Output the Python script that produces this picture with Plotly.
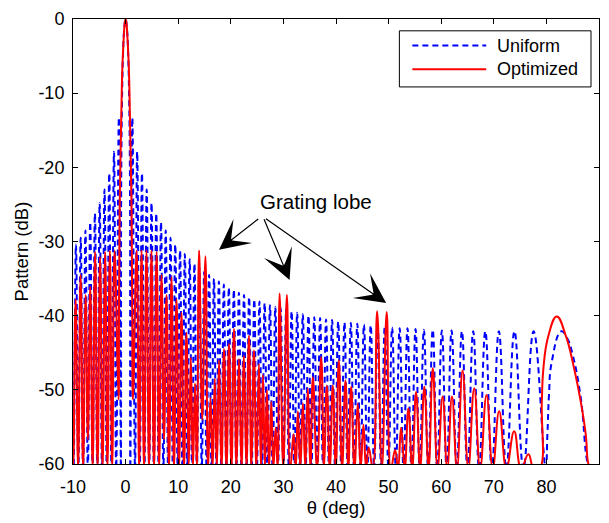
import plotly.graph_objects as go

# ---------------------------------------------------------------
# Uniform array pattern: lobe vertices (angle in deg, level in dB)
# nulls sit just under the -60 dB floor, peaks follow the lobe tops
# ---------------------------------------------------------------
uniform_theta = [
    -10.81, -10.35, -9.90, -9.44, -8.99, -8.54, -8.08, -7.63, -7.18, -6.73,
    -6.28, -5.83, -5.38, -4.93, -4.48, -4.01, -3.58, -3.11, -2.69, -2.20,
    -1.79, -1.28, -0.895, -0.85, -0.80, -0.70, -0.50, -0.30, 0.0,
    0.30, 0.50, 0.70, 0.80, 0.85, 0.895, 1.28, 1.79, 2.20, 2.69, 3.11,
    3.58, 4.01, 4.48, 4.93, 5.38, 5.83, 6.28, 6.73, 7.18, 7.63,
    8.08, 8.54, 8.99, 9.44, 9.90, 10.35, 10.81, 11.26, 11.72, 12.18,
    12.64, 13.09, 13.55, 14.02, 14.48, 14.94, 15.40, 15.87, 16.34, 16.80,
    17.27, 17.74, 18.21, 18.68, 19.16, 19.63, 20.11, 20.58, 21.06, 21.54,
    22.02, 22.51, 22.99, 23.48, 23.97, 24.46, 24.95, 25.45, 25.94, 26.44,
    26.94, 27.45, 27.95, 28.46, 28.97, 29.48, 30.00, 30.52, 31.04, 31.56,
    32.09, 32.62, 33.16, 33.69, 34.23, 34.77, 35.32, 35.87, 36.42, 36.98,
    37.54, 38.11, 38.68, 39.26, 39.83, 40.42, 41.01, 41.61, 42.21, 42.82,
    43.43, 44.05, 44.67, 45.31, 45.96, 46.60, 47.25, 47.92, 48.59, 49.27,
    49.97, 50.67, 51.38, 52.10, 52.84, 53.59, 54.34, 55.12, 55.91, 56.71,
    57.53, 58.39, 59.24, 60.13, 61.04, 61.97, 62.95, 63.94, 64.99, 66.08,
    67.20, 68.39, 69.63, 70.96, 72.38, 73.93, 75.63, 77.57, 79.86,
    80.20, 80.50, 81.00, 82.84, 84.00, 85.00, 86.50, 88.00, 89.00,
]
uniform_db = [
    -60.6, -31.2, -60.6, -30.4, -60.6, -29.5, -60.6, -28.5, -60.6, -27.4,
    -60.6, -26.2, -60.6, -24.8, -60.6, -23.0, -60.6, -20.8, -60.6, -17.9,
    -60.6, -13.3, -60.6, -25.5, -18.6, -11.8, -5.0, -1.7, 0.0,
    -1.7, -5.0, -11.8, -18.6, -25.5, -60.6, -13.3, -60.6, -17.9, -60.6, -20.8,
    -60.6, -23.0, -60.6, -24.8, -60.6, -26.2, -60.6, -27.4, -60.6, -28.5,
    -60.6, -29.5, -60.6, -30.4, -60.6, -31.2, -60.6, -31.7, -60.6, -32.4,
    -60.6, -33.0, -60.6, -33.5, -60.6, -34.1, -60.6, -34.5, -60.6, -35.0,
    -60.6, -35.4, -60.6, -35.8, -60.6, -36.2, -60.6, -36.5, -60.6, -36.9,
    -60.6, -37.2, -60.6, -37.5, -60.6, -37.8, -60.6, -38.1, -60.6, -38.3,
    -60.6, -38.6, -60.6, -38.8, -60.6, -39.0, -60.6, -39.2, -60.6, -39.4,
    -60.6, -39.6, -60.6, -39.8, -60.6, -40.0, -60.6, -40.2, -60.6, -40.3,
    -60.6, -40.5, -60.6, -40.6, -60.6, -40.8, -60.6, -40.9, -60.6, -41.0,
    -60.6, -41.1, -60.6, -41.2, -60.6, -41.3, -60.6, -41.4, -60.6, -41.5,
    -60.6, -41.6, -60.6, -41.7, -60.6, -41.7, -60.6, -41.8, -60.6, -41.9,
    -60.6, -41.9, -60.6, -42.0, -60.6, -42.0, -60.6, -42.1, -60.6, -42.1,
    -60.6, -42.1, -60.6, -42.1, -60.6, -42.1, -60.6, -42.1, -60.6,
    -55.8, -50.6, -46.3, -42.1, -43.1, -45.3, -50.9, -60.4, -62.0,
]

# ---------------------------------------------------------------
# Optimized array pattern
# ---------------------------------------------------------------
optimized_theta = [
    -10.90, -10.45, -9.98, -9.50, -9.03, -8.55, -8.08, -7.60, -7.17, -6.72,
    -6.26, -5.80, -5.33, -4.85, -4.38, -3.90, -3.45, -3.00, -2.55, -2.10,
    -1.35, -1.25, -1.10, -1.00, -0.82, -0.50, 0.0, 0.50, 0.82, 1.00,
    1.10, 1.25, 1.40, 2.10, 2.57, 3.03, 3.50, 3.97, 4.45, 4.92,
    5.40, 5.90, 6.37, 6.83, 7.30, 7.78, 8.25, 8.73, 9.20, 9.68,
    10.15, 10.63, 11.10, 11.57, 12.00, 12.40, 12.80, 13.20, 13.55, 13.97,
    14.57, 15.18, 15.68, 16.13, 16.55, 16.95, 17.35, 17.76, 18.23, 18.71,
    19.18, 19.66, 20.13, 20.61, 21.08, 21.56, 22.03, 22.50, 22.97, 23.45,
    23.92, 24.40, 24.87, 25.35, 25.73, 26.11, 26.49, 26.87, 27.28, 27.70,
    28.10, 28.52, 28.90, 29.28, 29.97, 30.66, 31.30, 31.94, 32.35, 32.75,
    33.22, 33.70, 34.17, 34.65, 35.12, 35.60, 36.40, 37.19, 37.72, 38.25,
    38.82, 39.39, 39.96, 40.53, 41.16, 41.80, 42.34, 42.88, 43.51, 44.14,
    44.68, 45.22, 45.72, 46.22, 47.00, 47.82, 48.73, 49.64, 50.45, 51.23,
    51.80, 52.37, 53.06, 53.76, 54.49, 55.22, 56.00, 56.79, 57.60, 58.40,
    59.30, 60.27, 61.15, 62.05, 63.00, 64.06, 65.15, 66.28, 67.40, 68.62,
    69.80, 71.02, 72.40, 73.87, 75.20, 76.58, 77.60, 78.70, 79.13, 79.43,
    80.38, 81.97, 83.68, 85.26, 86.53, 87.48, 88.00, 88.50,
]
optimized_db = [
    -60.6, -40.0, -60.6, -37.8, -60.6, -34.5, -60.6, -37.2, -56.7, -36.1,
    -60.6, -31.4, -60.6, -32.1, -60.6, -31.4, -60.6, -31.2, -60.6, -31.2,
    -51.3, -38.0, -24.0, -20.0, -13.0, -4.6, 0.0, -4.6, -13.0, -20.0,
    -24.0, -38.0, -51.3, -31.2, -60.6, -31.2, -60.6, -31.2, -60.6, -31.2,
    -60.6, -31.4, -60.6, -34.5, -56.7, -37.2, -60.6, -34.8, -60.6, -37.8,
    -60.6, -39.6, -60.6, -42.3, -60.6, -45.6, -60.6, -49.1, -60.6, -31.2,
    -54.0, -32.0, -60.6, -51.1, -60.6, -48.5, -60.6, -46.0, -60.6, -44.5,
    -60.6, -43.8, -60.6, -41.8, -60.6, -45.8, -60.6, -45.4, -60.6, -42.7,
    -60.6, -44.7, -60.6, -46.5, -60.6, -48.0, -60.6, -50.0, -60.6, -51.6,
    -60.6, -55.1, -60.6, -37.0, -60.6, -37.2, -60.6, -56.0, -60.6, -52.9,
    -60.6, -51.8, -60.6, -49.8, -60.6, -48.3, -60.6, -45.6, -60.6, -49.4,
    -60.6, -49.4, -60.6, -46.0, -60.6, -48.7, -60.6, -49.6, -60.6, -51.8,
    -60.6, -54.7, -60.6, -57.8, -60.6, -39.4, -60.6, -39.5, -60.6, -58.1,
    -60.6, -55.1, -60.6, -52.5, -60.6, -50.3, -60.6, -49.6, -60.6, -47.1,
    -60.6, -50.9, -60.6, -50.9, -60.6, -47.4, -60.6, -49.8, -60.6, -50.7,
    -60.6, -52.9, -60.6, -55.6, -60.6, -58.7, -60.6, -60.6, -51.6, -47.1,
    -42.7, -40.1, -42.7, -47.1, -51.6, -56.0, -60.0, -60.6,
]

x_tick_values = [-10, 0, 10, 20, 30, 40, 50, 60, 70, 80, 90]
x_tick_labels = ["-10", "0", "10", "20", "30", "40", "50", "60", "70", "80", "90"]
y_tick_values = [0, -10, -20, -30, -40, -50, -60]
y_tick_labels = ["0", "-10", "-20", "-30", "-40", "-50", "-60"]

legend_labels = ["Uniform", "Optimized"]
legend_colors = ["#0000ff", "#ff0000"]
legend_dashes = ["dash", "solid"]

annotation_text = "Grating lobe"
# arrow tips (deg, dB) pointing at the three grating-lobe pairs, and tails
arrow_tip_theta = [17.76, 31.18, 49.53]
arrow_tip_db = [-31.1, -35.2, -38.3]
arrow_tail_theta = [25.5, 26.2, 26.4]
arrow_tail_db = [-26.8, -26.8, -26.8]

FONT = "Liberation Sans, Arial, sans-serif"
DASH = "6px,4px"

fig = go.Figure()
fig.add_trace(go.Scatter(
    x=uniform_theta, y=uniform_db, mode="lines", name=legend_labels[0],
    line=dict(color=legend_colors[0], width=2, dash=DASH,
              shape="spline", smoothing=1.3),
    showlegend=False, hoverinfo="skip",
))
fig.add_trace(go.Scatter(
    x=optimized_theta, y=optimized_db, mode="lines", name=legend_labels[1],
    line=dict(color=legend_colors[1], width=2, shape="spline", smoothing=1.3),
    showlegend=False, hoverinfo="skip",
))

# annotation text and arrows
annotations = [dict(
    x=36.2, y=-24.6, xref="x", yref="y", text=annotation_text,
    showarrow=False, font=dict(family=FONT, size=20.5, color="black"),
)]
for tx, ty, sx, sy in zip(arrow_tip_theta, arrow_tip_db,
                          arrow_tail_theta, arrow_tail_db):
    annotations.append(dict(
        x=tx, y=ty, xref="x", yref="y", ax=sx, ay=sy, axref="x", ayref="y",
        text="", showarrow=True, arrowhead=3, arrowsize=4.2, arrowwidth=1.2,
        arrowcolor="black",
    ))

# plot-area pixel frame, used to place the legend and the y title
X0, X1, W = 73, 600, 527
Y0, Y1, H = 15, 467, 452


def px(xp):
    return (xp - X0) / W


def py(yp):
    return (Y1 - yp) / H


shapes = [dict(type="rect", xref="paper", yref="paper",
               x0=px(400), x1=px(592), y0=py(84), y1=py(27),
               line=dict(color="black", width=1), fillcolor="white")]
row_y = [42, 66]
for lab, col, dsh, ry in zip(legend_labels, legend_colors, legend_dashes, row_y):
    shapes.append(dict(type="line", xref="paper", yref="paper",
                       x0=px(413), x1=px(487), y0=py(ry), y1=py(ry),
                       line=dict(color=col, width=2,
                                 dash=DASH if dsh == "dash" else "solid")))
    annotations.append(dict(x=px(496), y=py(ry), xref="paper", yref="paper",
                            text=lab, showarrow=False, xanchor="left",
                            yanchor="middle",
                            font=dict(family=FONT, size=18, color="black")))

# y-axis title
annotations.append(dict(x=px(21), y=py(251), xref="paper", yref="paper",
                        text="Pattern (dB)", textangle=-90, showarrow=False,
                        xanchor="center", yanchor="middle",
                        font=dict(family=FONT, size=18.5, color="black")))

axis_common = dict(
    showline=True, linecolor="black", linewidth=1, mirror="ticks",
    ticks="inside", ticklen=5, tickcolor="black", showgrid=False,
    zeroline=False, tickfont=dict(family=FONT, size=18, color="black"),
    tickmode="array",
)
fig.update_layout(
    width=609, height=523,
    margin=dict(l=73, r=9, t=15, b=56),
    paper_bgcolor="white", plot_bgcolor="white",
    xaxis=dict(range=[-10, 90], tickvals=x_tick_values, ticktext=x_tick_labels,
               title=dict(text="θ (deg)", standoff=4,
                          font=dict(family=FONT, size=18.5, color="black")),
               ticklabelstandoff=6, **axis_common),
    yaxis=dict(range=[-60, 0], tickvals=y_tick_values, ticktext=y_tick_labels,
               ticklabelstandoff=4, **axis_common),
    annotations=annotations,
    shapes=shapes,
)

fig.write_html("out.html")
